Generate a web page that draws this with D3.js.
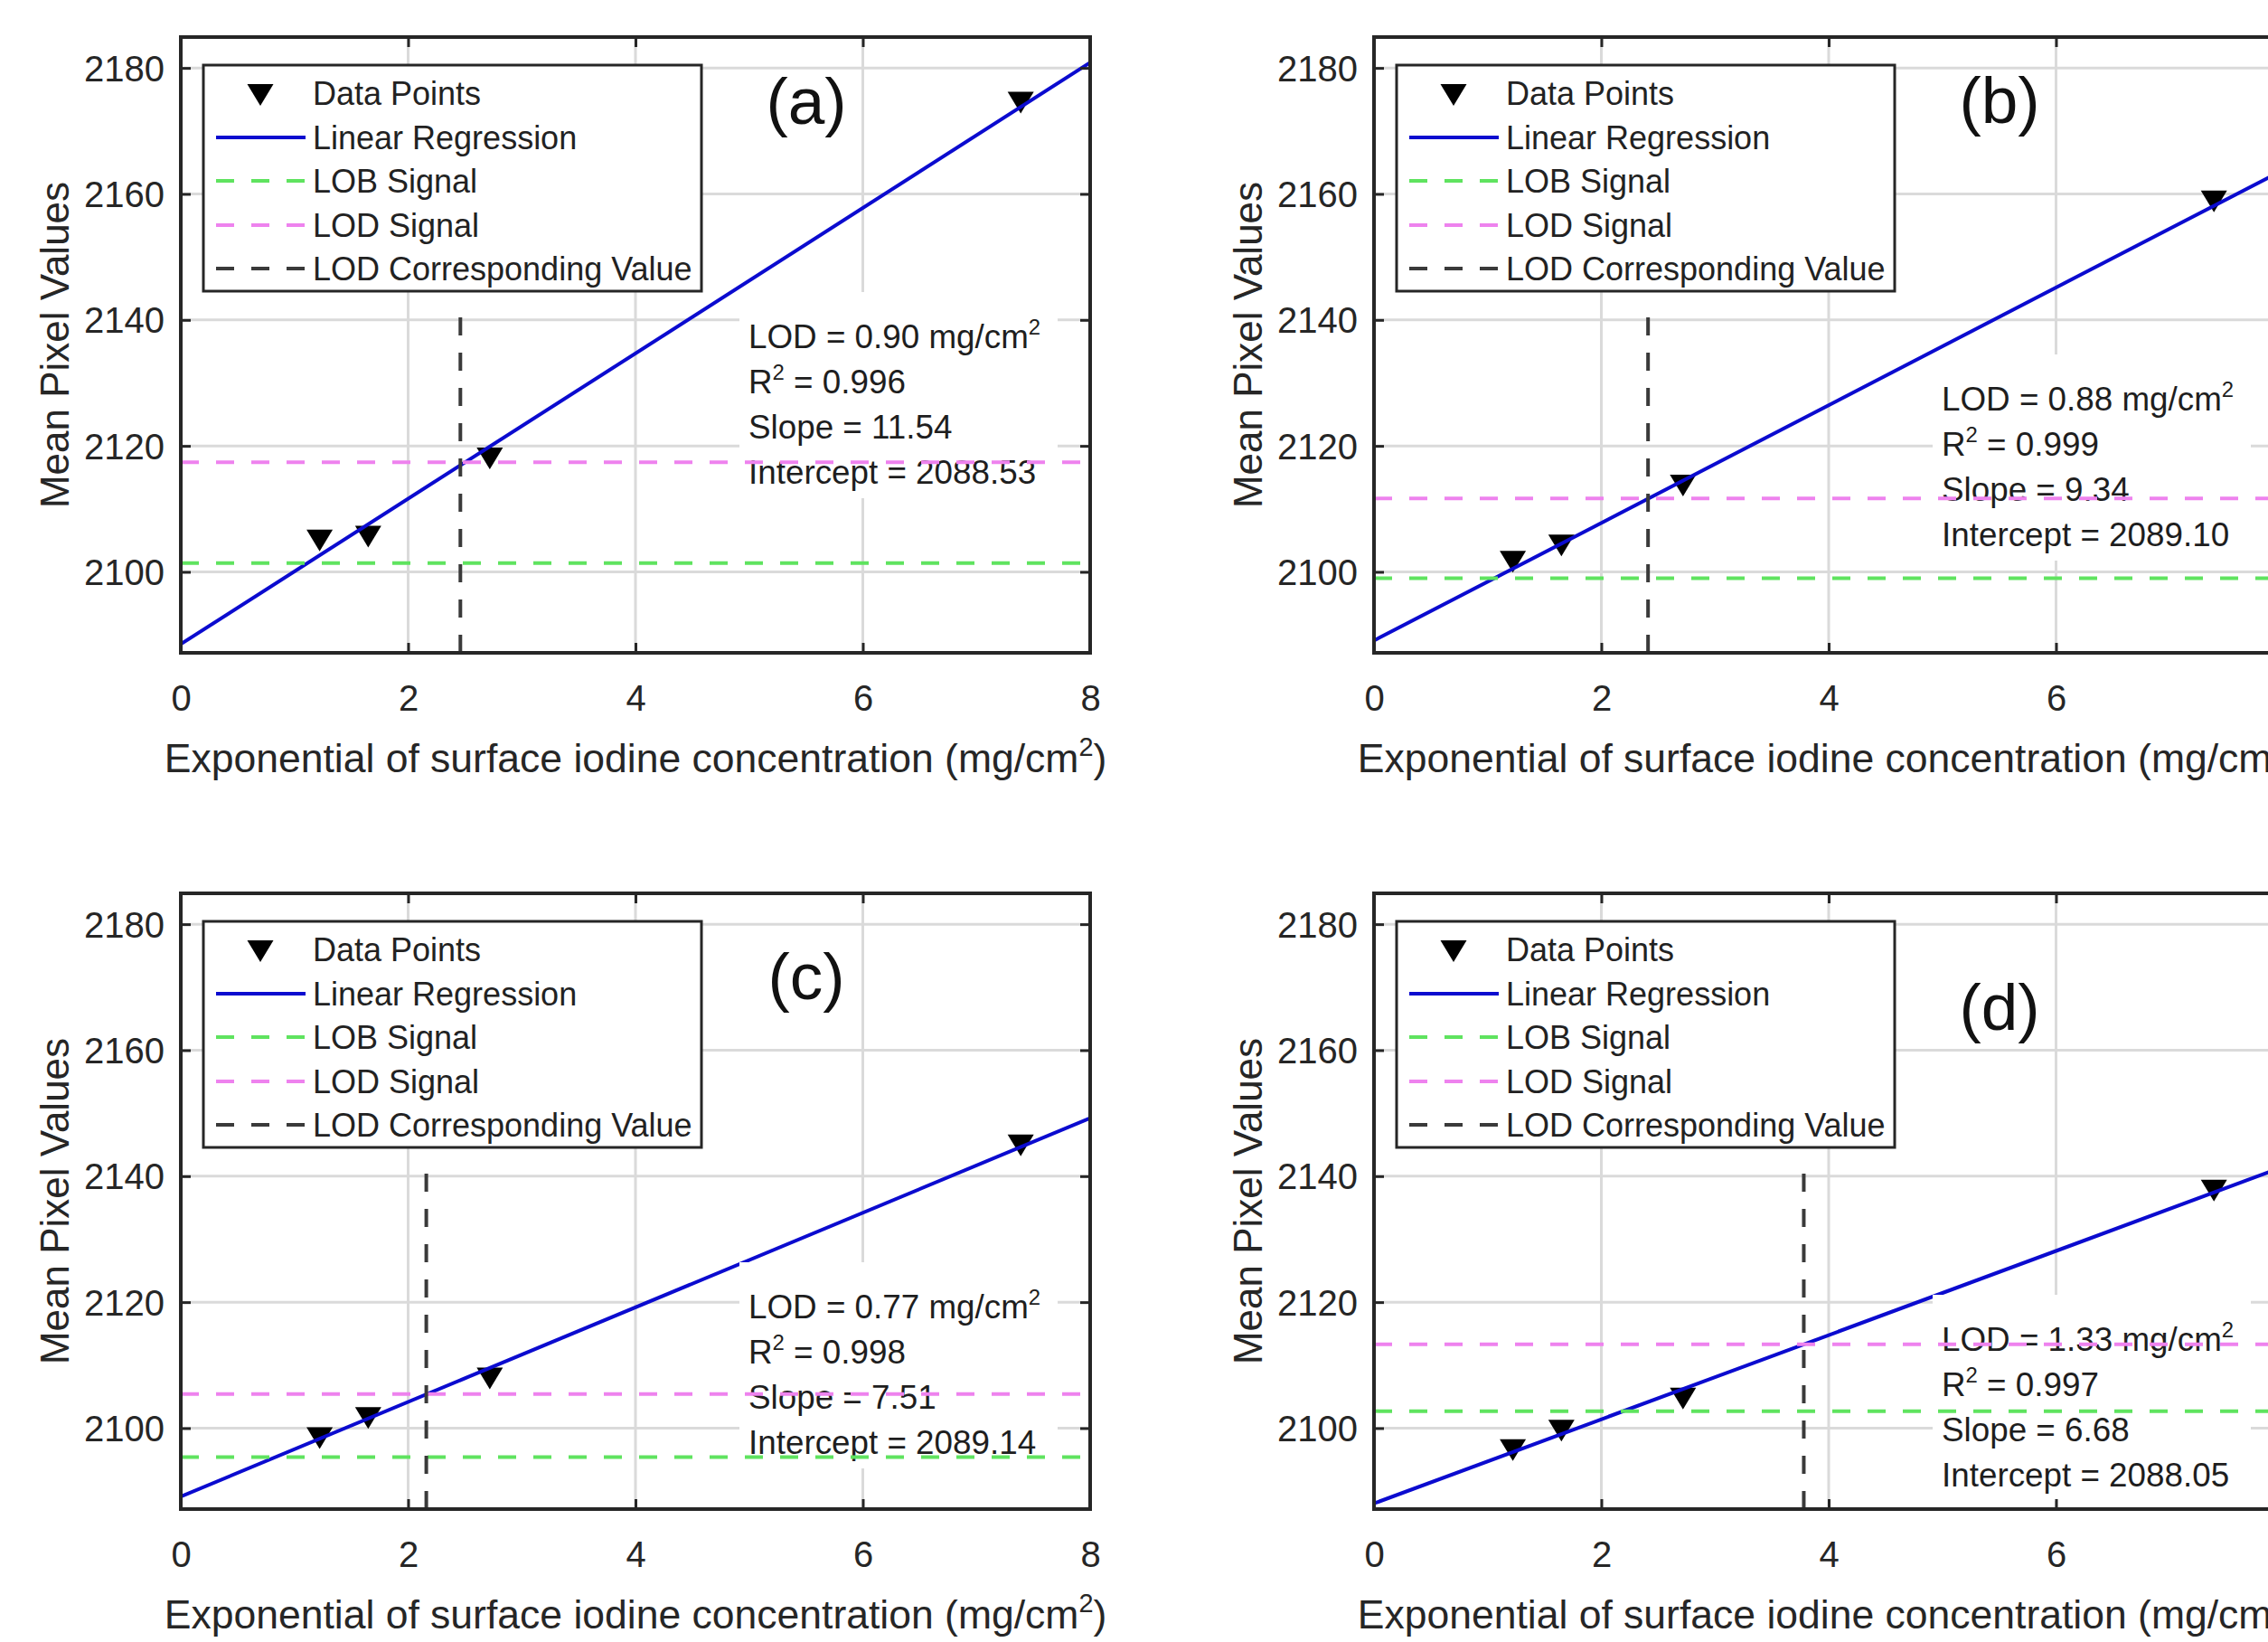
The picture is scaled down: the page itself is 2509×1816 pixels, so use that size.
<!DOCTYPE html>
<html><head><meta charset="utf-8">
<script src="https://cdn.jsdelivr.net/npm/d3@7"></script>
<style>
body{margin:0;background:#fff}
svg{display:block;font-family:"Liberation Sans",Arial,Helvetica,sans-serif}
</style>
</head><body>
<script>
// ---------- data ----------
const panelLabels = ["(a)", "(b)", "(c)", "(d)"];
const xValues = [1.2214, 1.6487, 2.7183, 7.3891];
const yValuesA = [2105.0, 2105.6, 2118.0, 2174.5];
const yValuesB = [2101.6, 2104.2, 2113.7, 2158.8];
const yValuesC = [2098.4, 2101.6, 2107.9, 2144.9];
const yValuesD = [2096.5, 2099.6, 2104.7, 2137.7];
const slopes = [11.54, 9.34, 7.51, 6.68];
const intercepts = [2088.53, 2089.10, 2089.14, 2088.05];
const r2Values = ["0.996", "0.999", "0.998", "0.997"];
const lodValues = [0.90, 0.88, 0.77, 1.33];
const lobSignal = [2101.4, 2099.0, 2095.4, 2102.7];
const lodSignal = [2117.4, 2111.65, 2105.4, 2113.3];
const lodLineTop = 2141.5;
const xTicks = [0, 2, 4, 6, 8];
const yTicks = [2100, 2120, 2140, 2160, 2180];
const xDomain = [0, 8];
const yDomain = [2087.15, 2184.9];
const legendLabels = ["Data Points", "Linear Regression", "LOB Signal", "LOD Signal", "LOD Corresponding Value"];
const xTitle = "Exponential of surface iodine concentration (mg/cm";
const yTitle = "Mean Pixel Values";
const seriesY = [yValuesA, yValuesB, yValuesC, yValuesD];

// ---------- layout / style ----------
const W = 2509, H = 1816;
const AX_W = 1006, AX_H = 681;
const layout = [
  {left: 200,  top: 41,  labelY: 96,  annY: 344},
  {left: 1520, top: 41,  labelY: 95,  annY: 413},
  {left: 200,  top: 988, labelY: 117, annY: 470},
  {left: 1520, top: 988, labelY: 151, annY: 506}
];
const C = {
  axis: "#262626", grid: "#dadada", blue: "#0b0bcf", green: "#5fe35f",
  magenta: "#ee82ee", gray: "#3a3a3a", text: "#262626"
};
const DASH = "20,19";

const svg = d3.select("body").append("svg")
  .attr("width", W).attr("height", H).attr("viewBox", `0 0 ${W} ${H}`);
svg.append("rect").attr("width", W).attr("height", H).attr("fill", "#fff");

const triPath = "M-14.5,-12L14.5,-12L0,12Z";

function supText(sel, parts, shift) {
  parts.forEach(p => {
    if (p.sup) {
      sel.append("tspan").attr("font-size", "0.65em").attr("dy", -shift).text(p.sup);
    } else {
      const t = sel.append("tspan").text(p.t);
      if (p.reset) t.attr("dy", shift);
    }
  });
}

layout.forEach((L, i) => {
  const g = svg.append("g").attr("transform", `translate(${L.left},${L.top})`);
  const x = d3.scaleLinear().domain(xDomain).range([0, AX_W]);
  const y = d3.scaleLinear().domain(yDomain).range([AX_H, 0]);
  const clipId = "clip" + i;
  g.append("clipPath").attr("id", clipId).append("rect").attr("width", AX_W).attr("height", AX_H);

  g.append("rect").attr("width", AX_W).attr("height", AX_H).attr("fill", "#fff");

  // grid
  const grid = g.append("g").attr("stroke", C.grid).attr("stroke-width", 3);
  grid.selectAll("line.gx").data(xTicks.filter(d => d > xDomain[0] && d < xDomain[1])).join("line")
    .attr("x1", d => x(d)).attr("x2", d => x(d)).attr("y1", 0).attr("y2", AX_H);
  grid.selectAll("line.gy").data(yTicks).join("line")
    .attr("x1", 0).attr("x2", AX_W).attr("y1", d => y(d)).attr("y2", d => y(d));

  const plot = g.append("g").attr("clip-path", `url(#${clipId})`);

  // data markers
  const pts = xValues.map((xv, k) => ({x: xv, y: seriesY[i][k]}));
  plot.selectAll("path.pt").data(pts).join("path")
    .attr("d", triPath).attr("fill", "#000")
    .attr("transform", d => `translate(${x(d.x)},${y(d.y)})`);

  // regression line
  const reg = xDomain.map(xv => ({x: xv, y: intercepts[i] + slopes[i] * xv}));
  plot.append("path").datum(reg)
    .attr("d", d3.line().x(d => x(d.x)).y(d => y(d.y)))
    .attr("fill", "none").attr("stroke", C.blue).attr("stroke-width", 4);

  // annotation box + text
  const ax = 628, ay = L.annY, lh = 50;
  plot.append("rect").attr("x", ax - 10).attr("y", ay - 62)
    .attr("width", 352).attr("height", lh * 3 + 62 + 16).attr("fill", "#fff");
  const annG = g.append("g").attr("font-size", 36.8).attr("fill", "#1e1e1e");
  const t0 = annG.append("text").attr("x", ax).attr("y", ay);
  supText(t0, [{t: "LOD = " + lodValues[i].toFixed(2) + " mg/cm"}, {sup: "2"}], 15);
  const t1 = annG.append("text").attr("x", ax).attr("y", ay + lh);
  supText(t1, [{t: "R"}, {sup: "2"}, {t: " = " + r2Values[i], reset: true}], 15);
  annG.append("text").attr("x", ax).attr("y", ay + 2 * lh).text("Slope = " + slopes[i].toFixed(2));
  annG.append("text").attr("x", ax).attr("y", ay + 3 * lh).text("Intercept = " + intercepts[i].toFixed(2));

  // dashed lines
  const dl = g.append("g").attr("clip-path", `url(#${clipId})`).attr("stroke-width", 4).attr("stroke-dasharray", DASH);
  dl.append("line").attr("x1", 0).attr("x2", AX_W).attr("y1", y(lobSignal[i])).attr("y2", y(lobSignal[i])).attr("stroke", C.green);
  dl.append("line").attr("x1", 0).attr("x2", AX_W).attr("y1", y(lodSignal[i])).attr("y2", y(lodSignal[i])).attr("stroke", C.magenta);
  const lx = x(Math.exp(lodValues[i]));
  dl.append("line").attr("x1", lx).attr("x2", lx).attr("y1", y(yDomain[0])).attr("y2", y(lodLineTop)).attr("stroke", C.gray);

  // axes
  const tl = 11;
  const xb = g.append("g").attr("transform", `translate(0,${AX_H})`)
    .call(d3.axisBottom(x).tickValues(xTicks).tickSize(-tl).tickFormat(d3.format("d")));
  const yl = g.append("g").call(d3.axisLeft(y).tickValues(yTicks).tickSize(-tl).tickFormat(d3.format("d")));
  const xt = g.append("g").call(d3.axisTop(x).tickValues(xTicks).tickSize(-tl).tickFormat(""));
  const yr = g.append("g").attr("transform", `translate(${AX_W},0)`)
    .call(d3.axisRight(y).tickValues(yTicks).tickSize(-tl).tickFormat(""));
  [xb, yl, xt, yr].forEach(a => {
    a.select(".domain").remove();
    a.selectAll(".tick line").attr("stroke", C.axis).attr("stroke-width", 3);
    a.selectAll("text").attr("fill", C.text).attr("font-size", 40).attr("font-family", null);
  });
  xb.selectAll("text").attr("y", 64).attr("dy", 0);
  yl.selectAll("text").attr("x", -18).attr("dy", "0.35em");
  g.append("rect").attr("width", AX_W).attr("height", AX_H).attr("fill", "none")
    .attr("stroke", C.axis).attr("stroke-width", 4);

  // axis titles
  const xtT = g.append("text").attr("x", AX_W / 2).attr("y", AX_H + 132)
    .attr("text-anchor", "middle").attr("font-size", 44.5).attr("fill", C.text);
  supText(xtT, [{t: xTitle}, {sup: "2"}, {t: ")", reset: true}], 18);
  g.append("text").attr("transform", `translate(-124,${AX_H / 2}) rotate(-90)`)
    .attr("text-anchor", "middle").attr("font-size", 44).attr("fill", C.text).text(yTitle);

  // panel label
  g.append("text").attr("x", 692).attr("y", L.labelY).attr("text-anchor", "middle")
    .attr("font-size", 73).attr("fill", "#111").text(panelLabels[i]);

  // legend
  const lg = g.append("g").attr("transform", "translate(25,31)");
  lg.append("rect").attr("width", 551).attr("height", 250).attr("fill", "#fff")
    .attr("stroke", C.axis).attr("stroke-width", 3);
  const rows = [31, 80, 128, 177, 225];
  lg.append("path").attr("d", triPath).attr("fill", "#000").attr("transform", `translate(63,${rows[0] + 2})`);
  const sampleStyles = [
    {c: C.blue, dash: null}, {c: C.green, dash: DASH}, {c: C.magenta, dash: DASH}, {c: C.gray, dash: DASH}
  ];
  sampleStyles.forEach((s, k) => {
    lg.append("line").attr("x1", 14).attr("x2", 113).attr("y1", rows[k + 1]).attr("y2", rows[k + 1])
      .attr("stroke", s.c).attr("stroke-width", 4).attr("stroke-dasharray", s.dash);
  });
  lg.selectAll("text.lt").data(legendLabels).join("text")
    .attr("x", 121).attr("y", (d, k) => rows[k] + 12.5)
    .attr("font-size", 36).attr("fill", "#222").text(d => d);
});
</script>
</body></html>
